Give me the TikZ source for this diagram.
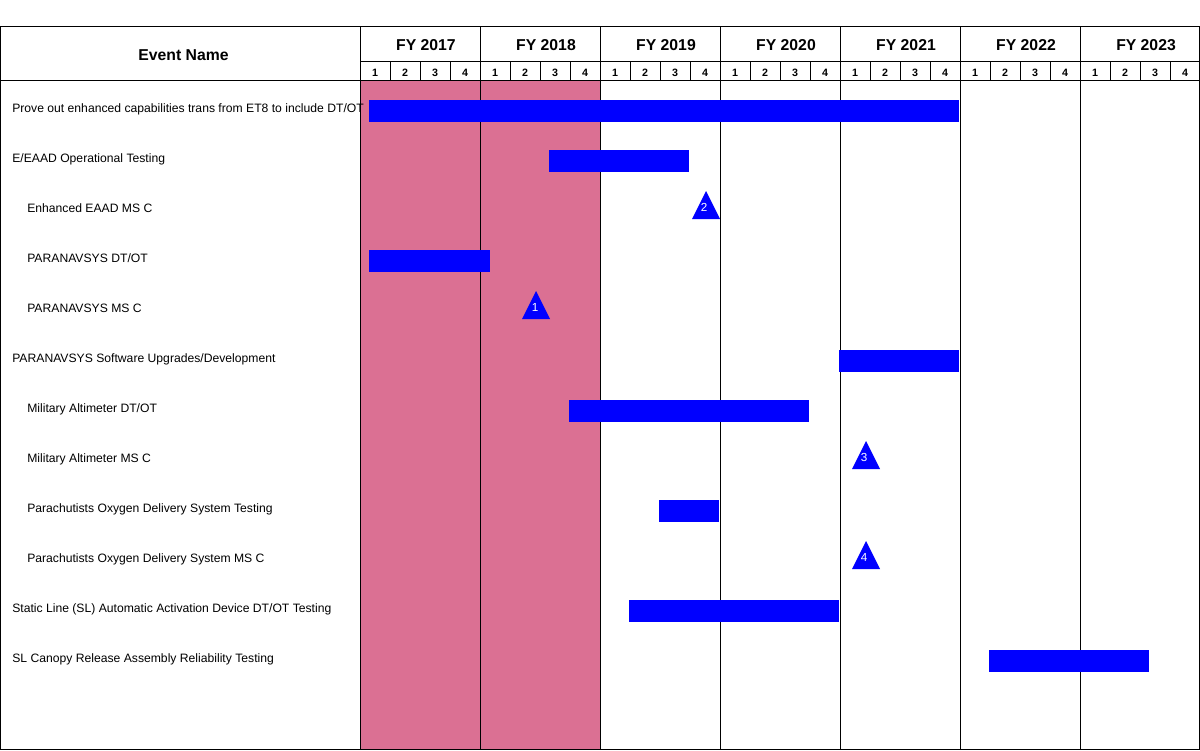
\documentclass[tikz,border=0pt]{standalone}
\usepackage{fontspec}
\setmainfont{Liberation Sans}
\usetikzlibrary{positioning}
\definecolor{pastband}{RGB}{219,112,147}
\definecolor{barblue}{RGB}{0,0,255}

\begin{document}
\begin{tikzpicture}[
  x=0.025cm, y=-0.025cm,
  gridline/.style={line width=0.65pt, black},
  eventbar/.style={fill=barblue},
  milestone/.style={fill=barblue},
  evlabel/.style={anchor=base west, inner sep=0pt, font=\fontsize{8.65}{10}\selectfont},
  yearlabel/.style={anchor=base, inner sep=0pt, font=\fontsize{11.2}{13}\selectfont\bfseries},
  qlabel/.style={anchor=base, inner sep=0pt, font=\fontsize{7.6}{9}\selectfont\bfseries},
  msnum/.style={anchor=base, inner sep=0pt, text=white, font=\fontsize{8.3}{9}\selectfont},
]
  \useasboundingbox (0,0) rectangle (1200,750);

  % Past fiscal years (shaded)
  \fill[pastband] (360,80) rectangle (600,749);

  % Frame and header rules
  \draw[gridline] (0.5,26) rectangle (1199,749);
  \draw[gridline] (360,61) -- (1199,61);
  \draw[gridline] (0.5,80) -- (1199,80);

  % Year columns
  \foreach \x in {360,480,600,720,840,960,1080}
    \draw[gridline] (\x,26) -- (\x,749);

  % Quarter ticks in the header
  \foreach \x in {0,120,240,360,480,600,720}
    \foreach \d in {30,60,90}
      \draw[gridline] (360+\x+\d,61) -- (360+\x+\d,80);

  % Header labels
  \node[yearlabel] (evhead) at (183.5,60) {Event Name};
  \foreach \yr [count=\i from 0] in {2017,2018,2019,2020,2021,2022,2023} {
    \node[yearlabel] (fy\yr) at (426+120*\i,50) {FY \yr};
    \foreach \q in {1,2,3,4}
      \node[qlabel] (q\yr-\q) at (360+120*\i+30*\q-15,76.5) {\q};
  }

  % Event bars
  \fill[eventbar] (369,100) rectangle (959,122);
  \fill[eventbar] (549,150) rectangle (689,172);
  \fill[eventbar] (369,250) rectangle (490,272);
  \fill[eventbar] (839,350) rectangle (959,372);
  \fill[eventbar] (569,400) rectangle (809,422);
  \fill[eventbar] (659,500) rectangle (719,522);
  \fill[eventbar] (629,600) rectangle (839,622);
  \fill[eventbar] (989,650) rectangle (1149,672);

  % Milestones (triangles)
  \fill[milestone] (692,219) -- (706,191) -- (720,219) -- cycle;
  \node[msnum] (ms2) at (704,211) {2};
  \fill[milestone] (522,319) -- (536,291) -- (550,319) -- cycle;
  \node[msnum] (ms1) at (535,311.5) {1};
  \fill[milestone] (852,469) -- (866,441) -- (880,469) -- cycle;
  \node[msnum] (ms3) at (864,461.5) {3};
  \fill[milestone] (852,569) -- (866,541) -- (880,569) -- cycle;
  \node[msnum] (ms4) at (864,561.5) {4};

  % Event names
  \node[evlabel] (ev1) at (12,112.5) {Prove out enhanced capabilities trans from ET8 to include DT/OT};
  \node[evlabel] (ev2) at (12,162.5) {E/EAAD Operational Testing};
  \node[evlabel] (ev3) at (27,212.5) {Enhanced EAAD MS C};
  \node[evlabel] (ev4) at (27,262.5) {PARANAVSYS DT/OT};
  \node[evlabel] (ev5) at (27,312.5) {PARANAVSYS MS C};
  \node[evlabel] (ev6) at (12,362.5) {PARANAVSYS Software Upgrades/Development};
  \node[evlabel] (ev7) at (27,412.5) {Military Altimeter DT/OT};
  \node[evlabel] (ev8) at (27,462.5) {Military Altimeter MS C};
  \node[evlabel] (ev9) at (27,512.5) {Parachutists Oxygen Delivery System Testing};
  \node[evlabel] (ev10) at (27,562.5) {Parachutists Oxygen Delivery System MS C};
  \node[evlabel] (ev11) at (12,612.5) {Static Line (SL) Automatic Activation Device DT/OT Testing};
  \node[evlabel] (ev12) at (12,662.5) {SL Canopy Release Assembly Reliability Testing};

\end{tikzpicture}
\end{document}
